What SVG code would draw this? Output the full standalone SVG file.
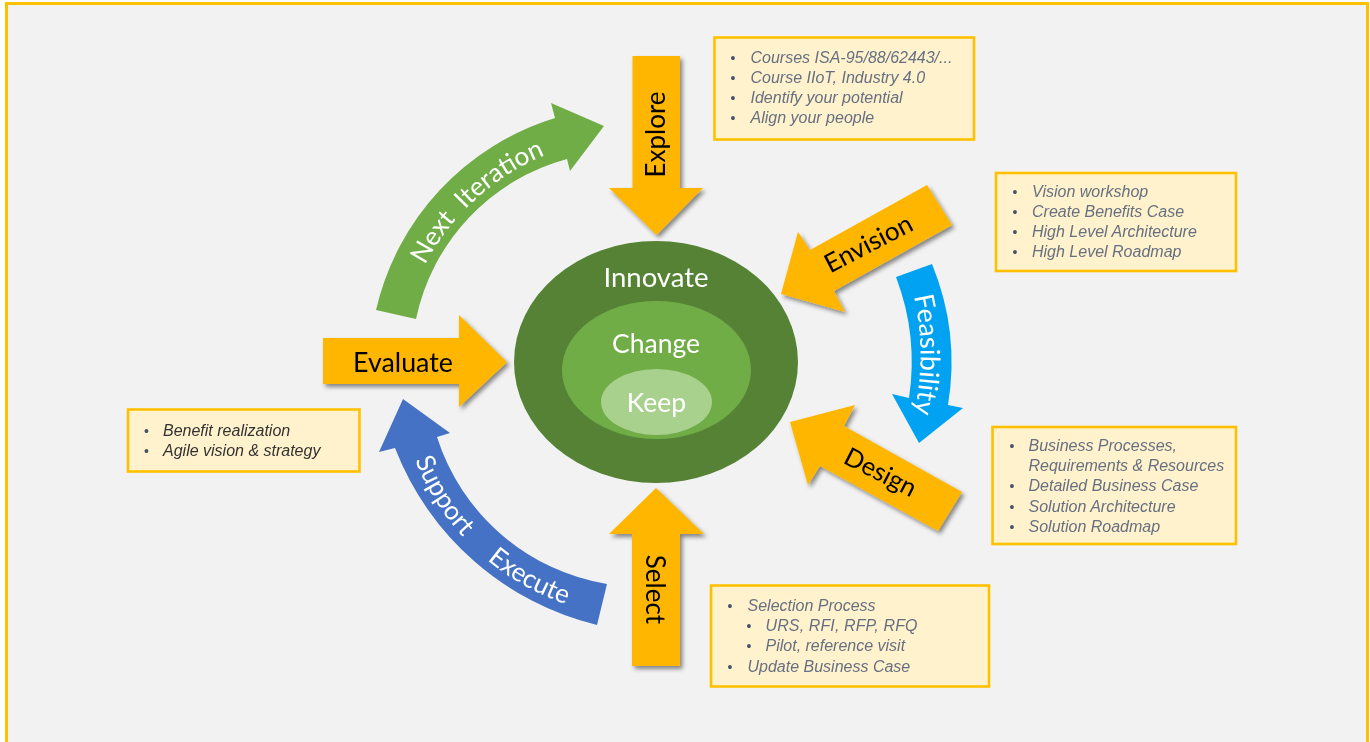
<svg xmlns="http://www.w3.org/2000/svg" width="1370" height="742" viewBox="0 0 1370 742">
  <style>
    .step{fill:#FFB600;filter:url(#shadow)}
    .lbl{font-family:"Lato","Open Sans","Liberation Sans",sans-serif;text-anchor:middle}
    .dark{fill:#000}
    .light{fill:#fff}
    .curve{font-family:"Lato","Open Sans","Liberation Sans",sans-serif;fill:#fff;white-space:pre}
    .box{fill:#FFF2CC;stroke:#FFC000;stroke-width:2.6}
    .note{font-family:"Liberation Sans",Arial,sans-serif;font-style:italic;font-size:16px;fill:#667082}
    .note.strong{fill:#333333}
    .dot{font-family:"Liberation Sans",Arial,sans-serif;font-size:14px;fill:#44546A;text-anchor:middle}
  </style>
  <defs>
    <filter id="shadow" x="-20%" y="-20%" width="140%" height="140%">
      <feDropShadow dx="2.5" dy="3" stdDeviation="2" flood-color="#000" flood-opacity="0.45"/>
    </filter>
    <filter id="soft" filterUnits="userSpaceOnUse" x="0" y="0" width="1370" height="742">
      <feGaussianBlur stdDeviation="0.4"/>
    </filter>
    <path id="pNext" d="M425 265A240 240 0 0 1 543 156"/>
    <path id="pFeas" d="M914 296A270 270 0 0 1 914 414"/>
    <path id="pSupp" d="M415 460A247 247 0 0 0 575 607"/>
  </defs>
  <rect width="1370" height="742" fill="#fff"/>
  <g filter="url(#soft)">
  <rect id="frame" x="6.5" y="3.5" width="1361" height="770" fill="#F2F2F2" stroke="#FFC000" stroke-width="3"/>

  <g id="connectors">
    <g id="next-iteration">
      <path fill="#70AD47" d="M376 310A263 263 0 0 1 555 118L551 103L604 126L570 171L567 159A210 210 0 0 0 416 319Z"/>
      <text class="curve" font-size="26"><textPath href="#pNext">Next  Iteration</textPath></text>
    </g>
    <g id="feasibility">
      <path fill="#00A2F1" d="M932 264A260 260 0 0 1 948 405L963 408L919 443L892 394L909 398A240 240 0 0 0 896 277Z"/>
      <text class="curve" font-size="27"><textPath href="#pFeas">Feasibility</textPath></text>
    </g>
    <g id="support-execute">
      <path fill="#4472C4" d="M607 584A215 215 0 0 1 437 437L450 433L403 399L379 452L395 448A290 290 0 0 0 597 625Z"/>
      <text class="curve" font-size="26"><textPath href="#pSupp">Support     Execute</textPath></text>
    </g>
  </g>

  <g id="core">
    <ellipse cx="656" cy="362" rx="142" ry="121" fill="#548235"/>
    <ellipse cx="656.5" cy="370" rx="94.5" ry="69" fill="#70AD47"/>
    <ellipse cx="656.5" cy="402" rx="55.5" ry="33" fill="#A9D18E"/>
    <text class="lbl light" x="656" y="287" font-size="27.5">Innovate</text>
    <text class="lbl light" x="656" y="353" font-size="26.5">Change</text>
    <text class="lbl light" x="656.5" y="412" font-size="26.5">Keep</text>
  </g>

  <g id="explore">
    <path class="step" d="M632.5 56H680V188H703L656.5 235L609 188H632.5Z"/>
    <text class="lbl dark" font-size="26" transform="translate(665 134.5) rotate(-90)">Explore</text>
  </g>
  <g id="envision">
    <path class="step" d="M927 185L952 225L834 291L845 312L781 294L798 232L810 250Z"/>
    <text class="lbl dark" font-size="26" transform="translate(872.5 251.5) rotate(-27.5)">Envision</text>
  </g>
  <g id="design">
    <path class="step" d="M790 422L855 405L844 426L962 492L938 531L820 466L808 485Z"/>
    <text class="lbl dark" font-size="25.5" transform="translate(876.5 480) rotate(27)">Design</text>
  </g>
  <g id="select">
    <path class="step" d="M656 488L704 534H680V666H632V534H609Z"/>
    <text class="lbl dark" font-size="26" transform="translate(646 589.5) rotate(90)">Select</text>
  </g>
  <g id="evaluate">
    <path class="step" d="M323 338H459V315L507 362L459 407V384H323Z"/>
    <text class="lbl dark" x="403" y="372" font-size="26.8">Evaluate</text>
  </g>

  <g id="note-explore">
    <rect class="box" x="714.5" y="37.5" width="259.5" height="102"/>
    <text class="dot" x="733" y="63">•</text><text class="note" x="750.5" y="63">Courses ISA-95/88/62443/...</text>
    <text class="dot" x="733" y="83">•</text><text class="note" x="750.5" y="83">Course IIoT, Industry 4.0</text>
    <text class="dot" x="733" y="103">•</text><text class="note" x="750.5" y="103">Identify your potential</text>
    <text class="dot" x="733" y="123">•</text><text class="note" x="750.5" y="123">Align your people</text>
  </g>
  <g id="note-envision">
    <rect class="box" x="996" y="173" width="240" height="98"/>
    <text class="dot" x="1015" y="197">•</text><text class="note" x="1032" y="197">Vision workshop</text>
    <text class="dot" x="1015" y="217">•</text><text class="note" x="1032" y="217">Create Benefits Case</text>
    <text class="dot" x="1015" y="237">•</text><text class="note" x="1032" y="237">High Level Architecture</text>
    <text class="dot" x="1015" y="257">•</text><text class="note" x="1032" y="257">High Level Roadmap</text>
  </g>
  <g id="note-design">
    <rect class="box" x="992.5" y="427" width="243.5" height="117"/>
    <text class="dot" x="1012" y="451">•</text><text class="note" x="1028.5" y="451">Business Processes,</text>
    <text class="note" x="1028.5" y="471">Requirements &amp; Resources</text>
    <text class="dot" x="1012" y="491">•</text><text class="note" x="1028.5" y="491">Detailed Business Case</text>
    <text class="dot" x="1012" y="512">•</text><text class="note" x="1028.5" y="512">Solution Architecture</text>
    <text class="dot" x="1012" y="532">•</text><text class="note" x="1028.5" y="532">Solution Roadmap</text>
  </g>
  <g id="note-select">
    <rect class="box" x="711" y="585.5" width="278" height="101"/>
    <text class="dot" x="730" y="611">•</text><text class="note" x="747.5" y="611">Selection Process</text>
    <text class="dot" x="749" y="631">•</text><text class="note" x="765.5" y="631" textLength="152">URS, RFI, RFP, RFQ</text>
    <text class="dot" x="749" y="651">•</text><text class="note" x="765.5" y="651">Pilot, reference visit</text>
    <text class="dot" x="730" y="672">•</text><text class="note" x="747.5" y="672">Update Business Case</text>
  </g>
  <g id="note-evaluate">
    <rect class="box" x="128" y="409.5" width="231.5" height="62"/>
    <text class="dot" x="146.5" y="436">•</text><text class="note strong" x="163" y="436">Benefit realization</text>
    <text class="dot" x="146.5" y="456">•</text><text class="note strong" x="163" y="456">Agile vision &amp; strategy</text>
  </g>
  </g>
</svg>
